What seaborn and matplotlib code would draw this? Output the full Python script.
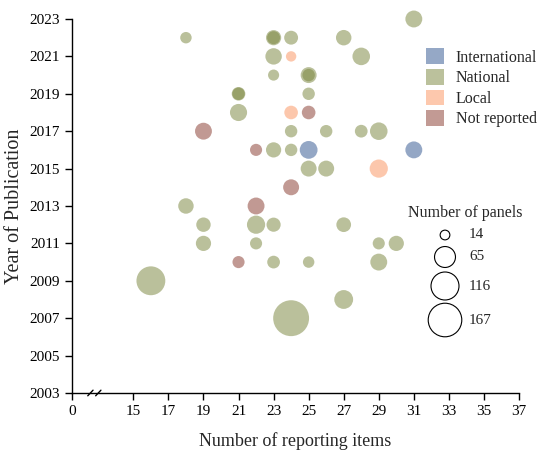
import matplotlib
matplotlib.use("Agg")
import matplotlib.pyplot as plt
from matplotlib.patches import Patch
import pandas as pd
import seaborn as sns

# reporting items, year, scope, number of panels
items = [25, 31,
         24, 24, 29,
         25, 19, 22, 24, 22, 21,
         31, 18, 23, 23, 24, 27, 23, 28, 23, 25, 25, 21, 21, 25, 21,
         24, 26, 28, 29, 23, 24, 25, 26, 18, 19, 22, 23, 27,
         19, 22, 29, 30, 23, 25, 29, 16, 27, 24]
years = [2016, 2016,
         2021, 2018, 2015,
         2018, 2017, 2016, 2014, 2013, 2010,
         2023, 2022, 2022, 2022, 2022, 2022, 2021, 2021, 2020, 2020, 2020, 2019, 2019, 2019, 2018,
         2017, 2017, 2017, 2017, 2016, 2016, 2015, 2015, 2013, 2012, 2012, 2012, 2012,
         2011, 2011, 2011, 2011, 2010, 2010, 2010, 2009, 2008, 2007]
scope = (["International"] * 2 + ["Local"] * 3 + ["Not reported"] * 6 + ["National"] * 38)
panels = [41, 37,
          14, 24, 43,
          24, 37, 19, 33, 37, 19,
          37, 17, 30, 22, 25, 31, 35, 40, 16, 33, 20, 24, 20, 20, 38,
          20, 20, 21, 40, 30, 20, 33, 33, 31, 27, 43, 26, 28,
          30, 19, 19, 30, 21, 17, 37, 108, 46, 167]

scope_order = ["International", "National", "Local", "Not reported"]
base_colors = {"International": "#2b518d", "National": "#778339",
               "Local": "#fb915b", "Not reported": "#853529"}
legend_colors = {"International": "#95a8c6", "National": "#bbc19c",
                 "Local": "#fdc8ad", "Not reported": "#c29a94"}
size_levels = [14, 65, 116, 167]

df = pd.DataFrame({"items": items, "year": years, "scope": scope, "panels": panels})

k = 4.0  # points^2 per panel

sns.set_style("ticks")
plt.rcParams["font.family"] = ["Liberation Serif", "DejaVu Serif"]

fig = plt.figure(figsize=(5.43, 4.5), dpi=100)
ax = fig.add_axes([0.1326, 0.1267, 0.8232, 0.8311])

sns.scatterplot(data=df, x="items", y="year", hue="scope", hue_order=scope_order,
                palette=base_colors, size="panels", sizes=(14 * k, 167 * k),
                size_norm=(14, 167), alpha=0.5, linewidth=0, legend=False,
                clip_on=False, ax=ax)

ax.set_xlim(11.5, 37)
ax.set_ylim(2003, 2023)
ax.set_xticks([11.5] + list(range(15, 38, 2)))
ax.set_xticklabels(["0"] + [str(v) for v in range(15, 38, 2)])
ax.set_yticks(range(2003, 2024, 2))
ax.tick_params(labelsize=11, length=5, width=1, colors="black")
for s in ["top", "right"]:
    ax.spines[s].set_visible(False)
for s in ["left", "bottom"]:
    ax.spines[s].set_color("black")
    ax.spines[s].set_linewidth(1)
ax.set_xlabel("Number of reporting items", fontsize=13, labelpad=10)
ax.set_ylabel("Year of Publication", fontsize=14.5, labelpad=4)

# axis break marks
for x0 in [12.4, 12.85]:
    ax.plot([x0, x0 + 0.3], [2002.85, 2003.15], color="black", lw=1, clip_on=False)

handles = [Patch(facecolor=legend_colors[c], edgecolor="none", label=c) for c in scope_order]
fig.legend(handles=handles, loc="upper left", bbox_to_anchor=(0.77, 0.91),
           frameon=False, fontsize=11.5, handlelength=1.15, handleheight=1.15,
           labelspacing=0.2, handletextpad=0.7, borderpad=0)

# size legend drawn in pixel coordinates on an overlay
lax = fig.add_axes([0, 0, 1, 1])
lax.set_xlim(0, 543)
lax.set_ylim(450, 0)
lax.axis("off")
rows_px = [235, 257, 286, 320]
lax.scatter([445] * 4, rows_px, s=[v * 3.5 for v in size_levels],
            facecolors="none", edgecolors="black", linewidths=0.8)
for v, yy in zip(size_levels, rows_px):
    lax.text(469, yy, str(v), fontsize=11, va="center", ha="left")
lax.text(465, 213, "Number of panels", fontsize=11.5, va="center", ha="center")

fig.savefig("out.png", dpi=100)
